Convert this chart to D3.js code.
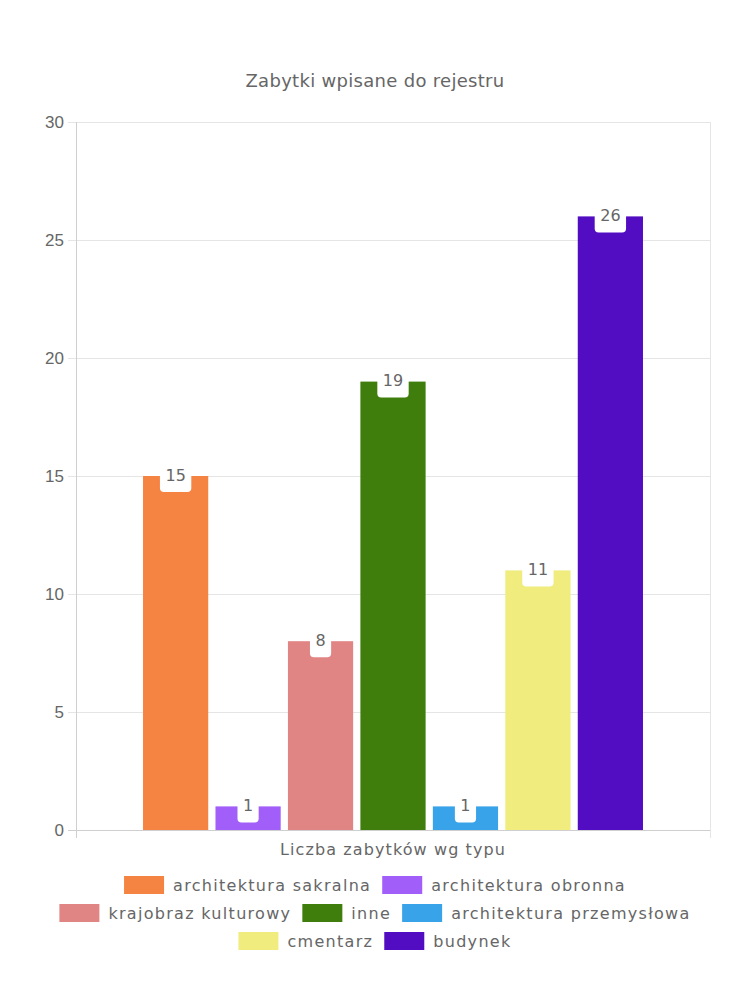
<!DOCTYPE html>
<html>
<head>
<meta charset="utf-8">
<script src="https://cdn.jsdelivr.net/npm/d3@7"></script>
<style>
  html, body { margin: 0; padding: 0; background: #fff; }
  svg text { font-family: "DejaVu Sans", sans-serif; fill: #666; }
</style>
</head>
<body>
<svg id="chart" width="750" height="1000"></svg>
<script>
const title = "Zabytki wpisane do rejestru";
const category = "Liczba zabytków wg typu";
const seriesNames = ["architektura sakralna", "architektura obronna", "krajobraz kulturowy", "inne", "architektura przemysłowa", "cmentarz", "budynek"];
const seriesValues = [15, 1, 8, 19, 1, 11, 26];
const seriesColors = ["#f58442", "#a15ef9", "#e08484", "#3f7e0d", "#38a3e9", "#f0ec7e", "#520cc2"];
const yTicks = [0, 5, 10, 15, 20, 25, 30];

const svg = d3.select("#chart");
const W = 750;
const plot = { left: 76, right: 710, top: 122, bottom: 830 };

const x0 = d3.scaleBand().domain([category]).range([plot.left, plot.right]).paddingInner(0).paddingOuter(0);
const x1 = d3.scaleBand().domain(seriesNames)
  .range([x0(category) + x0.bandwidth() * 0.1, x0(category) + x0.bandwidth() * 0.9])
  .paddingInner(0.1).paddingOuter(0.05);
const y = d3.scaleLinear().domain([0, 30]).range([plot.bottom, plot.top]);

// Title
svg.append("text").attr("x", W / 2).attr("y", 86.5).attr("text-anchor", "middle")
  .style("font-size", "18px").style("letter-spacing", "0.3px").text(title);

// Horizontal grid + tick marks
const yAxis = d3.axisLeft(y).tickValues(yTicks).tickSize(-(plot.right - plot.left)).tickPadding(12).tickSizeOuter(0);
const gy = svg.append("g").attr("transform", `translate(${plot.left},0)`).call(yAxis);
gy.select(".domain").remove();
gy.selectAll(".tick line").attr("stroke", "#e5e5e5").attr("x1", -8);
gy.selectAll(".tick text").style("font-family", "'Liberation Sans', Arial, sans-serif")
  .style("font-size", "17px").attr("fill", "#666").attr("x", -12).attr("dy", "0.35em");

// Vertical category gridlines
const xb = [plot.left, plot.right];
svg.append("g").selectAll("line").data(xb).join("line")
  .attr("x1", d => d).attr("x2", d => d).attr("y1", plot.top).attr("y2", plot.bottom + 8)
  .attr("stroke", (d, i) => i === 0 ? "#cfcfcf" : "#e5e5e5").attr("stroke-width", 1)
  .attr("transform", "translate(0.5,0)");
// x axis line
svg.append("line").attr("x1", plot.left - 8).attr("x2", plot.right).attr("y1", y(0) + 0.5).attr("y2", y(0) + 0.5)
  .attr("stroke", "#cfcfcf");

// Bars
const data = seriesNames.map((n, i) => ({ name: n, value: seriesValues[i], color: seriesColors[i] }));
svg.append("g").selectAll("rect").data(data).join("rect")
  .attr("x", d => x1(d.name)).attr("width", x1.bandwidth())
  .attr("y", d => y(d.value)).attr("height", d => y(0) - y(d.value))
  .attr("fill", d => d.color);

// Data labels
const lg = svg.append("g").selectAll("g").data(data).join("g")
  .attr("transform", d => `translate(${x1(d.name) + x1.bandwidth() / 2},${y(d.value)})`);
lg.append("rect").attr("class", "lbox").attr("fill", "#fff").attr("rx", 4).attr("ry", 4);
lg.append("text").attr("text-anchor", "middle").attr("dy", "0.35em").attr("y", -1)
  .style("font-size", "16px").text(d => d.value);
lg.each(function () {
  const g = d3.select(this);
  const w = g.select("text").node().getComputedTextLength() + 11;
  g.select("rect").attr("x", -w / 2).attr("width", w).attr("y", -16).attr("height", 32);
});

// Axis title
svg.append("text").attr("x", (plot.left + plot.right) / 2).attr("y", 855).attr("text-anchor", "middle")
  .style("font-size", "16px").style("letter-spacing", "1.1px").text(category);

// Legend (flow layout)
const boxW = 40, boxH = 18, gapText = 9, gapItem = 11, maxW = 700, rowH = 28, firstRowCenter = 885;
const legend = svg.append("g");
const items = data.map(d => {
  const t = legend.append("text").style("font-size", "16px").style("letter-spacing", "1.3px").text(d.name);
  const tw = t.node().getComputedTextLength();
  return { d, t, w: boxW + gapText + tw };
});
const rows = [];
let cur = [], curW = 0;
items.forEach(it => {
  const add = (cur.length ? gapItem : 0) + it.w;
  if (cur.length && curW + add > maxW) { rows.push({ items: cur, w: curW }); cur = []; curW = 0; }
  curW += (cur.length ? gapItem : 0) + it.w;
  cur.push(it);
});
if (cur.length) rows.push({ items: cur, w: curW });
rows.forEach((r, ri) => {
  let xx = W / 2 - r.w / 2;
  const cy = firstRowCenter + ri * rowH;
  r.items.forEach(it => {
    legend.append("rect").attr("x", xx).attr("y", cy - boxH / 2).attr("width", boxW).attr("height", boxH)
      .attr("fill", it.d.color);
    it.t.attr("x", xx + boxW + gapText).attr("y", cy).attr("dy", "0.35em");
    xx += it.w + gapItem;
  });
});
</script>
</body>
</html>
